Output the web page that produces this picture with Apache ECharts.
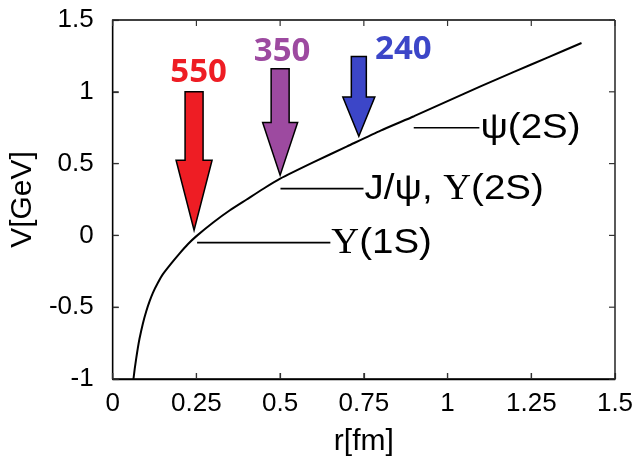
<!DOCTYPE html>
<html>
<head>
<meta charset="utf-8">
<script src="https://cdn.jsdelivr.net/npm/echarts@6/dist/echarts.min.js"></script>
<style>html,body{margin:0;padding:0;background:#fff;}#c{width:640px;height:462px;}</style>
</head>
<body>
<div id="c"></div>
<script>
// ---- data ----
var xTicks = [0, 0.25, 0.5, 0.75, 1, 1.25, 1.5];
var yTicks = [-1, -0.5, 0, 0.5, 1, 1.5];
var potentialR = [0.062, 0.066, 0.070, 0.075, 0.080, 0.090, 0.100, 0.110, 0.120, 0.135, 0.150, 0.175, 0.200, 0.225, 0.250, 0.300, 0.350, 0.400, 0.450, 0.500, 0.600, 0.700, 0.800, 0.900, 1.000, 1.100, 1.200, 1.300, 1.400];
var potentialV = [-1.00, -0.925, -0.86, -0.785, -0.72, -0.615, -0.53, -0.46, -0.40, -0.33, -0.27, -0.195, -0.125, -0.06, -0.005, 0.09, 0.175, 0.25, 0.325, 0.395, 0.51, 0.62, 0.73, 0.83, 0.935, 1.04, 1.14, 1.24, 1.34];

// arrows: temperature label, r position, top V, neck V, tip V
var arrowLabels = ['550', '350', '240'];
var arrowR = [0.243, 0.50, 0.735];
var arrowTopV = [1.00, 1.16, 1.246];
var arrowNeckV = [0.523, 0.787, 0.963];
var arrowTipV = [0.036, 0.419, 0.690];

// quarkonium states: name, binding level V, line start r, line end r
var stateNames = ['\u03a5(1S)', 'J/\u03c8, \u03a5(2S)', '\u03c8(2S)'];
var stateV = [-0.05, 0.326, 0.750];
var stateR0 = [0.252, 0.501, 0.899];
var stateR1 = [0.650, 0.749, 1.095];

// ---- layout / styles ----
var GRID = {left: 112, right: 25, top: 20, bottom: 83};
var arrowColors = ['#ee1d24', '#9d4aa0', '#3c46c8'];
var arrowShaftW = [18, 18, 15];
var arrowHeadW = [36, 35, 32];
var arrowLabelDx = [4.5, 2, 44.5];
var arrowLabelDy = [-19, -17, -7];
var TICK_LEN = 6;

var xMin = xTicks[0], xMax = xTicks[xTicks.length - 1];
var yMin = yTicks[0], yMax = yTicks[yTicks.length - 1];

var curve = potentialR.map(function (r, i) { return [r, potentialV[i]]; });
var arrowData = arrowR.map(function (r, i) { return [r, arrowTopV[i], arrowNeckV[i], arrowTipV[i], i]; });
var stateData = stateV.map(function (v, i) { return [stateR0[i], stateR1[i], v, i]; });

function richLabel(s) {
  return s.split('\u03a5').join('{u|\u03a5}');
}

var chart = echarts.init(document.getElementById('c'));
chart.setOption({
  animation: false,
  grid: GRID,
  xAxis: {
    type: 'value', min: xMin, max: xMax, interval: xTicks[1] - xTicks[0],
    axisLine: {show: true, onZero: false, lineStyle: {color: '#000', width: 1.3}},
    axisTick: {show: true, inside: true, length: TICK_LEN, lineStyle: {color: '#333', width: 1.2}},
    splitLine: {show: false},
    axisLabel: {fontSize: 26, color: '#000', fontFamily: 'Liberation Sans', margin: 12,
      formatter: function (v) { return String(+(+v).toFixed(2)); }},
    name: 'r[fm]', nameLocation: 'middle', nameGap: 48,
    nameTextStyle: {fontSize: 30, color: '#000', fontFamily: 'Liberation Sans'}
  },
  yAxis: {
    type: 'value', min: yMin, max: yMax, interval: yTicks[1] - yTicks[0],
    axisLine: {show: true, onZero: false, lineStyle: {color: '#000', width: 1.3}},
    axisTick: {show: true, inside: true, length: TICK_LEN, lineStyle: {color: '#333', width: 1.2}},
    splitLine: {show: false},
    axisLabel: {fontSize: 26, color: '#000', fontFamily: 'Liberation Sans', margin: 19,
      formatter: function (v) { return String(+(+v).toFixed(2)); }},
    name: 'V[GeV]', nameLocation: 'middle', nameGap: 60,
    nameTextStyle: {fontSize: 30, color: '#000', fontFamily: 'Liberation Sans'}
  },
  series: [
    {
      type: 'line', data: curve, showSymbol: false, smooth: 0.2,
      lineStyle: {color: '#000', width: 2}, z: 3
    },
    {
      // frame with inward ticks on all four sides, on its own layer
      type: 'custom', data: [[xMin, yMin, xMax, yMax]], zlevel: 1, z: 1, clip: false,
      renderItem: function (params, api) {
        var bl = api.coord([api.value(0), api.value(1)]);
        var tr = api.coord([api.value(2), api.value(3)]);
        var kids = [
          {type: 'line', shape: {x1: bl[0], y1: bl[1], x2: tr[0], y2: bl[1]}, style: {stroke: '#000', lineWidth: 1.3}},
          {type: 'line', shape: {x1: tr[0], y1: bl[1], x2: tr[0], y2: tr[1]}, style: {stroke: '#000', lineWidth: 1.3}},
          {type: 'line', shape: {x1: tr[0], y1: tr[1], x2: bl[0], y2: tr[1]}, style: {stroke: '#000', lineWidth: 1.3}},
          {type: 'line', shape: {x1: bl[0], y1: tr[1], x2: bl[0], y2: bl[1]}, style: {stroke: '#000', lineWidth: 1.3}}
        ];
        xTicks.forEach(function (t) {
          var x = api.coord([t, yMin])[0];
          kids.push({type: 'line', shape: {x1: x, y1: bl[1], x2: x, y2: bl[1] - TICK_LEN}, style: {stroke: '#333', lineWidth: 1.2}});
          kids.push({type: 'line', shape: {x1: x, y1: tr[1], x2: x, y2: tr[1] + TICK_LEN}, style: {stroke: '#333', lineWidth: 1.2}});
        });
        yTicks.forEach(function (t) {
          var y = api.coord([xMin, t])[1];
          kids.push({type: 'line', shape: {x1: bl[0], y1: y, x2: bl[0] + TICK_LEN, y2: y}, style: {stroke: '#333', lineWidth: 1.2}});
          kids.push({type: 'line', shape: {x1: tr[0], y1: y, x2: tr[0] - TICK_LEN, y2: y}, style: {stroke: '#333', lineWidth: 1.2}});
        });
        return {type: 'group', children: kids};
      }
    },
    {
      type: 'custom', data: stateData, z: 4, clip: false,
      renderItem: function (params, api) {
        var i = api.value(3);
        var p0 = api.coord([api.value(0), api.value(2)]);
        var p1 = api.coord([api.value(1), api.value(2)]);
        return {
          type: 'group',
          children: [
            {type: 'line', shape: {x1: p0[0], y1: p0[1], x2: p1[0], y2: p1[1]},
              style: {stroke: '#000', lineWidth: 1.6}},
            {type: 'text', x: p1[0] + 1, y: p1[1] + 1, scaleX: 1.1,
              style: {
                text: richLabel(stateNames[i]),
                fill: '#000', align: 'left', verticalAlign: 'middle',
                fontSize: 35, fontFamily: 'Liberation Sans',
                rich: {u: {fontSize: 35, fontFamily: 'Liberation Serif', fill: '#000'}}
              }}
          ]
        };
      }
    },
    {
      type: 'custom', data: arrowData, z: 5, clip: false,
      renderItem: function (params, api) {
        var i = api.value(4);
        var r = api.value(0);
        var top = api.coord([r, api.value(1)]);
        var neck = api.coord([r, api.value(2)]);
        var tip = api.coord([r, api.value(3)]);
        var sw = arrowShaftW[i] / 2, hw = arrowHeadW[i] / 2, cx = top[0];
        var pts = [
          [cx - sw, top[1]], [cx + sw, top[1]], [cx + sw, neck[1]], [cx + hw, neck[1]],
          [cx, tip[1]], [cx - hw, neck[1]], [cx - sw, neck[1]]
        ];
        return {
          type: 'group',
          children: [
            {type: 'polygon', shape: {points: pts},
              style: {fill: arrowColors[i], stroke: '#000', lineWidth: 1.5, lineJoin: 'miter'}},
            {type: 'text', x: cx + arrowLabelDx[i], y: top[1] + arrowLabelDy[i],
              style: {text: arrowLabels[i], fill: arrowColors[i], align: 'center', verticalAlign: 'middle',
                fontSize: 33, fontWeight: 'bold', fontFamily: 'Open Sans'}}
          ]
        };
      }
    }
  ]
});
</script>
</body>
</html>
